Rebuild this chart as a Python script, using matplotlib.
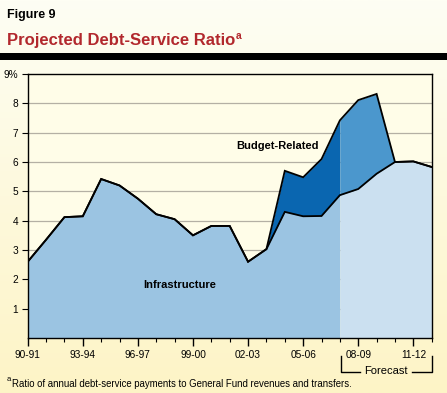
import matplotlib
matplotlib.use("Agg")
import matplotlib.pyplot as plt
import numpy as np
from matplotlib.lines import Line2D

plt.rcParams['font.family'] = ['Liberation Sans', 'DejaVu Sans']

years = ["90-91", "91-92", "92-93", "93-94", "94-95", "95-96", "96-97", "97-98",
         "98-99", "99-00", "00-01", "01-02", "02-03", "03-04", "04-05", "05-06",
         "06-07", "07-08", "08-09", "09-10", "10-11", "11-12", "12-13"]
infrastructure = [2.6, 3.35, 4.12, 4.15, 5.42, 5.2, 4.75, 4.22, 4.05, 3.5, 3.82, 3.82,
                  2.6, 3.03, 4.3, 4.15, 4.16, 4.87, 5.08, 5.6, 6.0, 6.02, 5.83]
budget_related = [0, 0, 0, 0, 0, 0, 0, 0, 0, 0, 0, 0, 0, 0,
                  1.4, 1.33, 1.94, 2.55, 3.03, 2.72, 0, 0, 0]
tick_labels = ["90-91", "93-94", "96-97", "99-00", "02-03", "05-06", "08-09", "11-12"]
forecast_start = "07-08"

W, H = 447, 393
fig = plt.figure(figsize=(W / 100, H / 100), dpi=100)

# background gradient
bg = fig.add_axes([0, 0, 1, 1], zorder=-10)
grad = np.linspace(0, 1, 256).reshape(-1, 1)
c_top = np.array([0xFE, 0xFE, 0xF4]) / 255
c_bot = np.array([0xFD, 0xF4, 0xC6]) / 255
img = c_top[None, None, :] * (1 - grad[:, :, None]) + c_bot[None, None, :] * grad[:, :, None]
bg.imshow(img, aspect='auto', extent=[0, 1, 0, 1], origin='upper')
bg.set_xlim(0, 1); bg.set_ylim(0, 1)
bg.axis('off')

# black band
fig.add_artist(plt.Rectangle((0, 1 - 60 / H), 1, 7 / H, transform=fig.transFigure,
                             color='black', lw=0))

fig.text(7 / W, 1 - 15 / H, "Figure 9", fontsize=9, fontweight='bold', va='center', ha='left')
title = fig.text(7 / W, 1 - 40 / H, "Projected Debt-Service Ratio", fontsize=12, fontweight='bold',
                 color='#B2282D', va='center', ha='left')
renderer = fig.canvas.get_renderer()
bb = title.get_window_extent(renderer=renderer)
fig.text((bb.x1 + 1) / W, 1 - 36 / H, "a", fontsize=7.5, fontweight='bold', color='#B2282D',
         va='center', ha='left')

left, right = 27.7 / W, 431.7 / W
bottom, top = 1 - 338 / H, 1 - 74 / H
ax = fig.add_axes([left, bottom, right - left, top - bottom])
ax.set_facecolor('#FFFDE8')

x = np.arange(len(years))
inf = np.array(infrastructure)
tot = inf + np.array(budget_related)
fi = years.index(forecast_start)

ax.fill_between(x[:fi + 1], 0, inf[:fi + 1], color='#9BC4E2', lw=0, zorder=2)
ax.fill_between(x[fi:], 0, inf[fi:], color='#CBE0F0', lw=0, zorder=2)
ax.fill_between(x[:fi + 1], inf[:fi + 1], tot[:fi + 1], color='#0A66B0', lw=0, zorder=2)
ax.fill_between(x[fi:], inf[fi:], tot[fi:], color='#4B97CD', lw=0, zorder=2)
ax.plot(x, tot, color='black', lw=1.3, zorder=3, solid_joinstyle='miter')
ax.plot(x, inf, color='black', lw=1.3, zorder=3, solid_joinstyle='miter')

for g in range(1, 9):
    ax.axhline(g, color='#B4B0A4', lw=0.9, zorder=1)

ax.set_xlim(0, len(years) - 1)
ax.set_ylim(0, 9)
ax.set_yticks(range(1, 10))
ax.set_yticklabels([str(i) for i in range(1, 9)] + ["9%"])
ax.set_xticks([years.index(t) for t in tick_labels])
ax.set_xticklabels(tick_labels)
ax.set_xticks(x, minor=True)
ax.tick_params(axis='x', which='major', length=6, width=1, labelsize=7.3, pad=3)
ax.tick_params(axis='x', which='minor', length=3, width=0.8)
ax.tick_params(axis='y', length=4, width=0.8, labelsize=7.3, pad=3)
for s in ax.spines.values():
    s.set_linewidth(1.0)
    s.set_zorder(5)

ax.text(13.63, 6.53, "Budget-Related", fontsize=8, fontweight='bold', ha='center', va='center', zorder=4)
ax.text(8.3, 1.8, "Infrastructure", fontsize=8, fontweight='bold', ha='center', va='center', zorder=4)

# Forecast bracket
xa = 340.7 / W
xb = 432 / W
yb = 1 - 371.5 / H
yt = 1 - 356 / H
fig.add_artist(Line2D([xa, xa, 360 / W], [yt, yb, yb], transform=fig.transFigure, color='black', lw=1))
fig.add_artist(Line2D([412 / W, xb, xb], [yb, yb, yt], transform=fig.transFigure, color='black', lw=1))
fig.text(386 / W, yb, "Forecast", fontsize=8, ha='center', va='center')

fig.text(7 / W, 1 - 383 / H, "a", fontsize=5.5, va='bottom', ha='left')
fig.text(12 / W, 1 - 384 / H, "Ratio of annual debt-service payments to General Fund revenues and transfers.",
         fontsize=6.95, va='center', ha='left')

fig.savefig("out.png", dpi=100)
